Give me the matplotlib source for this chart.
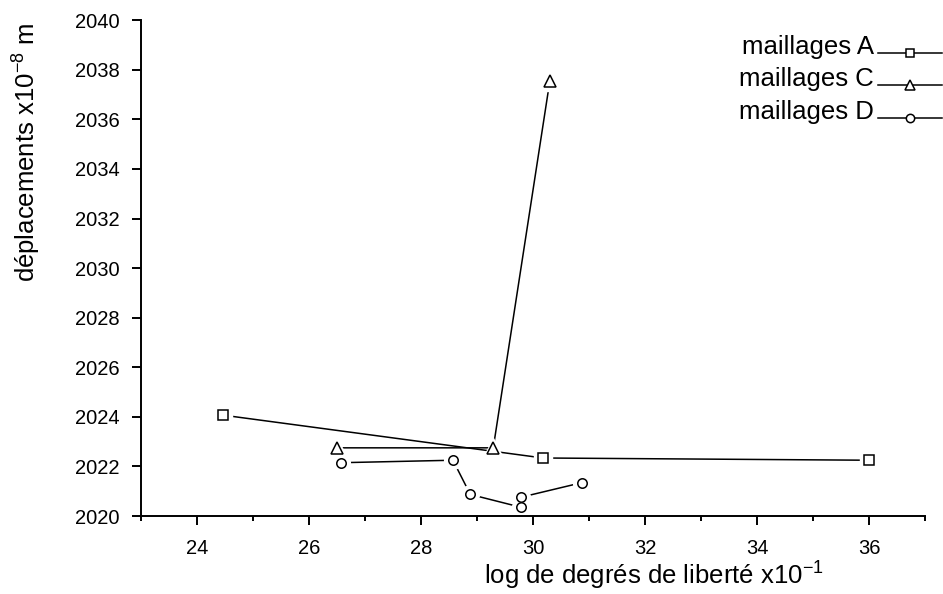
import matplotlib
matplotlib.use("Agg")
import matplotlib.pyplot as plt
from matplotlib.ticker import MultipleLocator
from matplotlib.lines import Line2D

plt.rcParams['font.family'] = ['Liberation Sans', 'DejaVu Sans']

# data
a_x = [24.46, 30.18, 36.0]
a_y = [2024.07, 2022.34, 2022.25]
c_x = [26.5, 29.29, 30.3]
c_y = [2022.75, 2022.75, 2037.55]
d_x = [26.57, 28.57, 28.88, 29.79, 29.79, 30.88]
d_y = [2022.15, 2022.25, 2020.87, 2020.35, 2020.76, 2021.35]
series = [("maillages A", a_x, a_y, 's'),
          ("maillages C", c_x, c_y, '^'),
          ("maillages D", d_x, d_y, 'o')]

fig = plt.figure(figsize=(9.43, 5.94), dpi=100)
ax = fig.add_axes([0.1495, 0.1313, 0.981 - 0.1495, 0.966 - 0.1313])

msz = {'s': 7, '^': 8.5, 'o': 6.8}
for label, xs, ys, m in series:
    ax.plot(xs, ys, '-', color='black', lw=1.1, zorder=1)
    ax.plot(xs, ys, linestyle='none', marker=m, ms=msz[m] + 6, mfc='white',
            mec='white', zorder=2, clip_on=False)
    ax.plot(xs, ys, linestyle='none', marker=m, ms=msz[m], mfc='white',
            mec='black', mew=1.1, zorder=3, clip_on=False)

ax.set_xlim(23, 37)
ax.set_ylim(2020, 2040)
ax.xaxis.set_major_locator(MultipleLocator(2))
ax.xaxis.set_minor_locator(MultipleLocator(1))
ax.yaxis.set_major_locator(MultipleLocator(2))
ax.spines['top'].set_visible(False)
ax.spines['right'].set_visible(False)
for s in ('left', 'bottom'):
    ax.spines[s].set_linewidth(1.4)
ax.tick_params(which='major', direction='out', length=6.5, width=1.4, labelsize=14.5)
ax.tick_params(axis='x', which='major', pad=10)
ax.tick_params(axis='y', which='major', pad=9)
ax.tick_params(which='minor', direction='out', length=3.6, width=1.4)
ax.set_xticks([24, 26, 28, 30, 32, 34, 36])

ax.set_ylabel(r"déplacements x10$^{\mathregular{-8}}$ m", fontsize=18.5)
ax.yaxis.set_label_coords(-0.126, (516 - 152) / 496)
ax.set_xlabel(r"log de degrés de liberté x10$^{\mathregular{-1}}$", fontsize=18.5)
ax.xaxis.set_label_coords((654 - 141) / 784, -0.085)

# legend drawn manually in figure pixel coordinates
W, H = 943, 594
rows = [53, 85, 118]
for (label, xs, ys, m), yp in zip(series, rows):
    fy = 1 - yp / H
    fig.text(874 / W, 1 - (yp + 1) / H, label, ha='right', va='baseline', fontsize=18.5)
    fig.add_artist(Line2D([878 / W, 942 / W], [fy, fy], color='black', lw=1.1))
    fig.add_artist(Line2D([910 / W], [fy], marker=m, ms=msz[m] - 0.8, mfc='white',
                          mec='black', mew=1.1, linestyle='none'))

fig.savefig("out.png", dpi=100)
